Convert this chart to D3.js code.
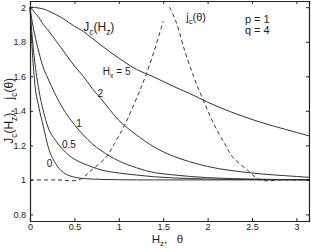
<!DOCTYPE html>
<meta charset="utf-8">
<title>Jc(Hz) and jc(theta)</title>
<body>
<script src="https://cdn.jsdelivr.net/npm/d3@7/dist/d3.min.js"></script>
<style>
html, body {
    margin: 0;
    background: #fff;
}
svg {
    display: block;
    font-family: "Liberation Sans", Arial, sans-serif;
}
.axis path, .axis line {
    stroke: #222;
}
.axis text {
    fill: #222;
    font-size: 9px;
}
</style>
<script>
// H_z grid shared by the J_c(H_z) curves
var hz = [0, 0.02, 0.05, 0.1, 0.15, 0.2, 0.3, 0.4, 0.5, 0.6, 0.7, 0.8, 1.0, 1.2, 1.4, 1.6, 1.8, 2.0, 2.5, 3.0, 3.1416];

var hxLabels = ["0", "0.5", "1", "2", "5"];

var jcHx0   = [2, 1.80, 1.58, 1.42, 1.31, 1.20, 1.085, 1.035, 1.016, 1.008, 1.005, 1.003, 1.001, 1.0, 1.0, 1.0, 1.0, 1.0, 1.0, 1.0, 1.0];
var jcHx05  = [2, 1.86, 1.70, 1.52, 1.40, 1.31, 1.22, 1.16, 1.12, 1.095, 1.075, 1.058, 1.04, 1.028, 1.018, 1.012, 1.008, 1.005, 1.002, 1.001, 1.001];
var jcHx1   = [2, 1.93, 1.85, 1.74, 1.65, 1.59, 1.48, 1.39, 1.32, 1.26, 1.21, 1.17, 1.11, 1.07, 1.042, 1.03, 1.02, 1.013, 1.005, 1.002, 1.002];
var jcHx2   = [2, 1.99, 1.97, 1.94, 1.90, 1.87, 1.80, 1.73, 1.66, 1.60, 1.53, 1.47, 1.345, 1.26, 1.19, 1.14, 1.105, 1.078, 1.04, 1.02, 1.015];
var jcHx5   = [2, 2.0, 1.999, 1.995, 1.99, 1.98, 1.955, 1.925, 1.89, 1.86, 1.82, 1.78, 1.705, 1.64, 1.595, 1.545, 1.50, 1.45, 1.35, 1.275, 1.255];

// j_c(theta), dashed
var theta = [0, 0.3, 0.55, 0.7, 0.86, 0.95, 1.065, 1.215, 1.3, 1.4, 1.5, 1.5708, 1.6416, 1.7416, 1.8416, 1.9266, 2.0766, 2.1916, 2.2816, 2.4416, 2.5916, 2.8416, 3.1416];
var jcTheta = [1, 1, 1, 1.06, 1.133, 1.21, 1.317, 1.491, 1.60, 1.749, 1.92, 2.0, 1.92, 1.749, 1.60, 1.491, 1.317, 1.21, 1.133, 1.06, 1, 1, 1];

var xTicks = [0, 0.5, 1, 1.5, 2, 2.5, 3];
var yTicks = [0.8, 1, 1.2, 1.4, 1.6, 1.8, 2];

var width = 311,
    height = 248,
    margin = {top: 1, right: 2, bottom: 27, left: 30};

var x = d3.scaleLinear().domain([0, Math.PI]).range([margin.left, width - margin.right]);
var y = d3.scaleLinear().domain([0.762, 2.036]).range([height - margin.bottom, margin.top]);

var svg = d3.select("body").append("svg")
    .attr("width", width)
    .attr("height", height);

var line = d3.line()
    .x(function(d) { return x(d[0]); })
    .y(function(d) { return y(d[1]); })
    .curve(d3.curveMonotoneX);

var series = [jcHx0, jcHx05, jcHx1, jcHx2, jcHx5];

svg.append("g").selectAll("path")
    .data(series)
    .enter().append("path")
    .attr("fill", "none")
    .attr("stroke", "#333")
    .attr("stroke-width", 1)
    .attr("d", function(vals) {
        return line(hz.map(function(h, i) { return [h, vals[i]]; }));
    });

// dashed curve: two halves so the peak keeps its point
var pts = theta.map(function(t, i) { return [t, jcTheta[i]]; });
var halves = [pts.filter(function(d) { return d[0] <= Math.PI / 2; }),
              pts.filter(function(d) { return d[0] >= Math.PI / 2; })];
var dline = d3.line()
    .x(function(d) { return x(d[0]); })
    .y(function(d) { return y(d[1]); })
    .curve(d3.curveCatmullRom);

svg.append("g").selectAll("path")
    .data(halves)
    .enter().append("path")
    .attr("fill", "none")
    .attr("stroke", "#333")
    .attr("stroke-width", 1)
    .attr("stroke-dasharray", "4,3")
    .attr("d", dline);

// axes, ticks inward
svg.append("g")
    .attr("class", "axis")
    .attr("transform", "translate(0," + y.range()[0] + ")")
    .call(d3.axisBottom(x).tickValues(xTicks).tickSize(-3).tickPadding(3).tickFormat(d3.format("")));

svg.append("g")
    .attr("class", "axis")
    .attr("transform", "translate(0," + y.range()[1] + ")")
    .call(d3.axisTop(x).tickValues(xTicks).tickSize(-3).tickFormat(""));

svg.append("g")
    .attr("class", "axis")
    .attr("transform", "translate(" + x.range()[0] + ",0)")
    .call(d3.axisLeft(y).tickValues(yTicks).tickSize(-3).tickPadding(4).tickFormat(d3.format("")));

svg.append("g")
    .attr("class", "axis")
    .attr("transform", "translate(" + x.range()[1] + ",0)")
    .call(d3.axisRight(y).tickValues(yTicks).tickSize(-3).tickFormat(""));

svg.selectAll(".axis .domain").attr("stroke-width", 1.2);

// text with subscripts: parts are [string, isSub]
function rich(px, py, parts, size, transform) {
    var t = svg.append("text")
        .attr("font-size", size)
        .attr("fill", "#222")
        .style("white-space", "pre");
    if (transform) t.attr("transform", transform).attr("text-anchor", "middle");
    else t.attr("x", px).attr("y", py);
    var down = false;
    parts.forEach(function(p) {
        var s = t.append("tspan").text(p[0]);
        if (p[1] && !down) { s.attr("font-size", size * 0.7).attr("dy", size * 0.3); down = true; }
        else if (p[1]) { s.attr("font-size", size * 0.7); }
        else if (down) { s.attr("dy", -size * 0.3); down = false; }
    });
    return t;
}

// curve labels
var labelPos = [[0.19, 1.074], [0.36, 1.184], [0.52, 1.305], [0.76, 1.48], [0.82, 1.607]];
hxLabels.forEach(function(lab, i) {
    if (i < 4) rich(x(labelPos[i][0]), y(labelPos[i][1]), [[lab]], 10);
    else rich(x(labelPos[i][0]), y(labelPos[i][1]), [["H"], ["x", 1], [" = " + lab]], 10);
});

rich(x(0.6), y(1.862), [["J"], ["c", 1], ["(H"], ["z", 1], [")"]], 12);
rich(x(1.76), y(1.92), [["j"], ["c", 1], ["(\u03b8)"]], 11);

svg.append("text").attr("x", x(2.42)).attr("y", y(1.91)).attr("font-size", 11).attr("fill", "#222").text("p = 1");
svg.append("text").attr("x", x(2.42)).attr("y", y(1.845)).attr("font-size", 11).attr("fill", "#222").text("q = 4");

// axis titles
rich(x(1.37), 243, [["H"], ["z", 1], [",\u00a0\u00a0\u00a0\u03b8"]], 11.5);
rich(0, 0, [["J"], ["c", 1], ["(H"], ["z", 1], ["),\u00a0\u00a0\u00a0j"], ["c", 1], ["(\u03b8)"]], 12,
    "translate(13," + y(1.4) + ") rotate(-90)");
</script>
